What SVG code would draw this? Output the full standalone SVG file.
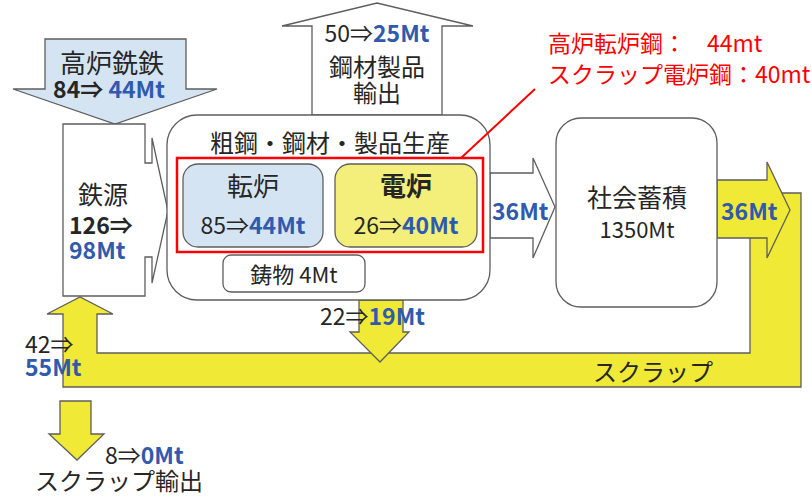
<svg xmlns="http://www.w3.org/2000/svg" width="812" height="497" viewBox="0 0 812 497">
<style>
text{font-family:"Noto Sans CJK JP","Noto Sans",sans-serif;fill:#262626}
.n{font-weight:bold;fill:#2f5aae}
.k{font-weight:bold}
.r{fill:#ff0000}
.s{stroke:#5e5e5e;stroke-width:1.3;stroke-linejoin:miter}
.y{fill:#f0e935}
.lb{fill:#d5e4f3}
.w{fill:#fff}
</style>
<rect width="812" height="497" fill="#fff"/>
<g id="connectors">
  <polygon id="scrap-loop" class="s y" points="750,193 801,193 801,387 63,387 63,314 47,314 80,297 113,314 97,314 97,353 750,353"/>
  <polygon id="to-stock" class="s w" points="490,173 533,173 533,158 555,207 533,258 533,238 490,238"/>
  <polygon id="from-stock" class="s y" points="717,180 767,180 767,162 790,210 767,258 767,238 717,238"/>
  <polygon id="prod-scrap" class="s y" points="359,300 403,300 403,332 409,332 380,362 350,332 359,332"/>
  <polygon id="scrap-export" class="s y" points="60,401 91,401 91,434 104,434 77,460 49,434 60,434"/>
  <polygon id="pig-iron" class="s lb" points="45,39 186,39 186,89 217,89 115,124 13,89 45,89"/>
  <polygon id="steel-export" class="s w" points="312,115 312,26 282,26 377,3 473,26 442,26 442,115"/>
  <text x="492" y="220" font-size="23" class="n">36Mt</text>
  <text x="721" y="220" font-size="23" class="n">36Mt</text>
  <text x="593" y="381" font-size="24">スクラップ</text>
  <text x="320" y="325" font-size="23">22⇒<tspan class="n">19Mt</tspan></text>
  <text x="25" y="353" font-size="23">42⇒</text>
  <text x="25" y="376" font-size="23" class="n">55Mt</text>
  <text x="105" y="464" font-size="23">8⇒<tspan class="n">0Mt</tspan></text>
  <text x="35" y="490" font-size="24">スクラップ輸出</text>
  <text x="112" y="73" font-size="26" text-anchor="middle">高炉銑鉄</text>
  <text x="109" y="98" font-size="23" text-anchor="middle" class="k">84⇒ <tspan class="n">44Mt</tspan></text>
  <text x="377" y="42" font-size="23" text-anchor="middle">50⇒<tspan class="n">25Mt</tspan></text>
  <text x="377" y="76" font-size="24" text-anchor="middle">鋼材製品</text>
  <text x="377" y="102" font-size="24" text-anchor="middle">輸出</text>
</g>
<g id="iron-source">
  <polygon class="s w" points="63,124 145,124 145,163 152,163 152,138 168,211 152,283 152,257 145,257 145,296 63,296"/>
  <text x="103" y="204" font-size="25" text-anchor="middle">鉄源</text>
  <text x="69" y="234" font-size="23" class="k">126⇒</text>
  <text x="69" y="259" font-size="23" class="n">98Mt</text>
</g>
<g id="production">
  <rect class="s w" x="167" y="115" width="323" height="185" rx="30"/>
  <text x="330" y="152" font-size="24" text-anchor="middle">粗鋼・鋼材・製品生産</text>
</g>
<g id="bof">
  <rect class="s lb" x="183" y="164" width="140" height="83" rx="15"/>
  <text x="253" y="196" font-size="26" text-anchor="middle">転炉</text>
  <text x="253" y="234" font-size="23" text-anchor="middle">85⇒<tspan class="n">44Mt</tspan></text>
</g>
<g id="eaf">
  <rect class="s" fill="#f3ef7a" x="335" y="164" width="142" height="83" rx="15"/>
  <text x="406" y="196" font-size="26" text-anchor="middle" font-weight="bold">電炉</text>
  <text x="406" y="234" font-size="23" text-anchor="middle">26⇒<tspan class="n">40Mt</tspan></text>
</g>
<g id="casting">
  <rect class="s w" x="223" y="255" width="142" height="37" rx="8"/>
  <text x="294" y="283" font-size="22" text-anchor="middle">鋳物 4Mt</text>
</g>
<g id="stock">
  <rect class="s w" x="556" y="118" width="161" height="189" rx="25"/>
  <text x="637" y="207" font-size="25" text-anchor="middle">社会蓄積</text>
  <text x="637" y="238" font-size="22" text-anchor="middle">1350Mt</text>
</g>
<g id="callout">
  <rect x="177" y="158" width="306" height="94" fill="none" stroke="#ff0000" stroke-width="2.5"/>
  <line x1="535" y1="89" x2="461" y2="158" stroke="#ff0000" stroke-width="2"/>
  <text x="548" y="52" font-size="23" class="r">高炉転炉鋼：<tspan x="707" class="r">44mt</tspan></text>
  <text x="548" y="83" font-size="23" class="r">スクラップ電炉鋼：40mt</text>
</g>
</svg>
